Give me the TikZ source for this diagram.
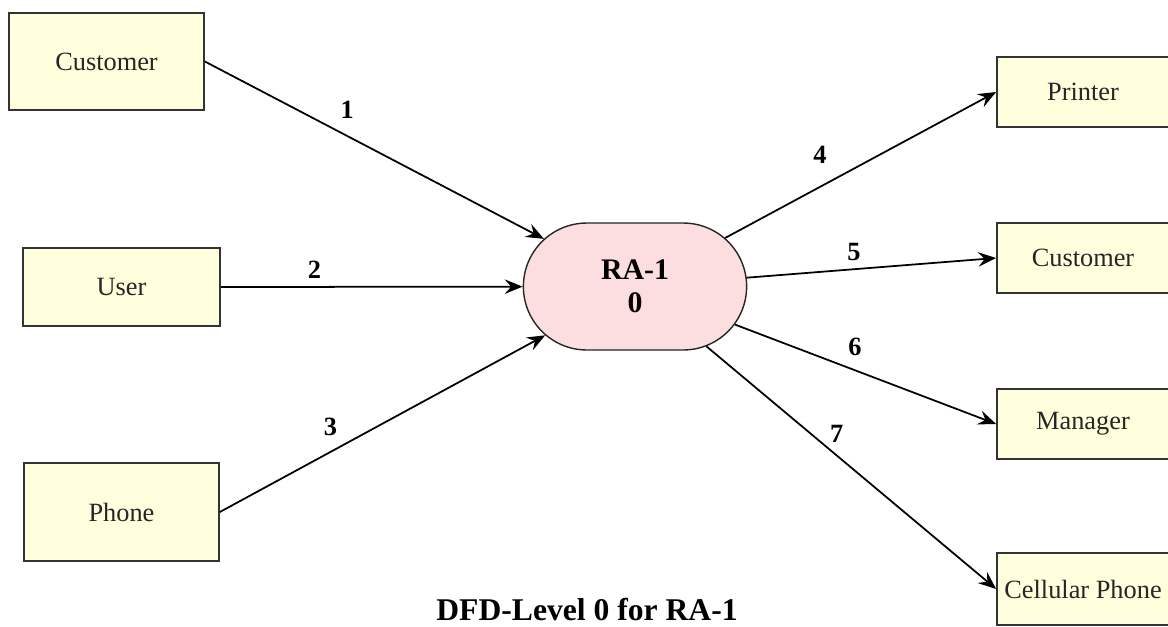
\documentclass[tikz,border=0pt]{standalone}
\usepackage{fontspec}
\setmainfont{Liberation Serif}
\usetikzlibrary{arrows.meta,shapes.misc}
\definecolor{entfill}{RGB}{255,255,222}
\definecolor{procfill}{RGB}{252,222,224}
\tikzset{
  ent/.style={rectangle,draw=black!80,fill=entfill,line width=1pt,text=black!85,
    font=\fontsize{15}{18}\selectfont,inner sep=0pt},          % external entity
  proc/.style={rounded rectangle,draw=black!85,fill=procfill,line width=0.8pt,
    minimum width=4.7cm,minimum height=2.54cm,align=center,
    font=\fontsize{17}{19}\selectfont\bfseries},               % process
  flow/.style={-{Stealth[length=3.6mm,width=2.9mm,inset=1.3mm]},line width=1pt},
  lbl/.style={font=\fontsize{15}{18}\selectfont\bfseries,inner sep=1pt},
}

\begin{document}
\begin{tikzpicture}[x=0.02cm,y=-0.02cm]
  \useasboundingbox (0,0) rectangle (1168,626);
  \node[ent,minimum width=3.9cm,minimum height=1.94cm] (cust) at (106.5,61.5) {Customer};
  \node[ent,minimum width=3.94cm,minimum height=1.56cm] (user) at (121.5,287) {User};
  \node[ent,minimum width=3.9cm,minimum height=1.96cm] (phone) at (121.5,512) {Phone};
  \node[proc] (ra) at (635,286.5) {RA-1\\0};
  \node[ent,minimum width=3.44cm,minimum height=1.4cm] (printer) at (1083,92) {Printer};
  \node[ent,minimum width=3.44cm,minimum height=1.4cm] (cust2) at (1083,258) {Customer};
  \node[ent,minimum width=3.44cm,minimum height=1.4cm] (mgr) at (1083,424) {Manager};
  \node[ent,minimum width=3.44cm,minimum height=1.44cm] (cell) at (1083,589) {Cellular Phone};
  \draw[flow] (cust.east) -- node[lbl,pos=0.42,above=0.3cm] (f1) {1} (ra);
  \draw[flow] (user.east) -- node[lbl,pos=0.31,above=0.12cm] (f2) {2} (ra);
  \draw[flow] (phone.east) -- node[lbl,pos=0.34,above=0.28cm] (f3) {3} (ra);
  \draw[flow] (ra) -- node[lbl,pos=0.35,above=0.42cm] (f4) {4} (printer.west);
  \draw[flow] (ra) -- node[lbl,pos=0.43,above=0.12cm] (f5) {5} (cust2.west);
  \draw[flow] (ra) -- node[lbl,pos=0.46,above=0.24cm] (f6) {6} (mgr.west);
  \draw[flow] (ra) -- node[lbl,pos=0.45,above=0.2cm] (f7) {7} (cell.west);
  \node[font=\fontsize{18}{21}\selectfont\bfseries] (title) at (587,610) {DFD-Level 0 for RA-1};
\end{tikzpicture}
\end{document}
